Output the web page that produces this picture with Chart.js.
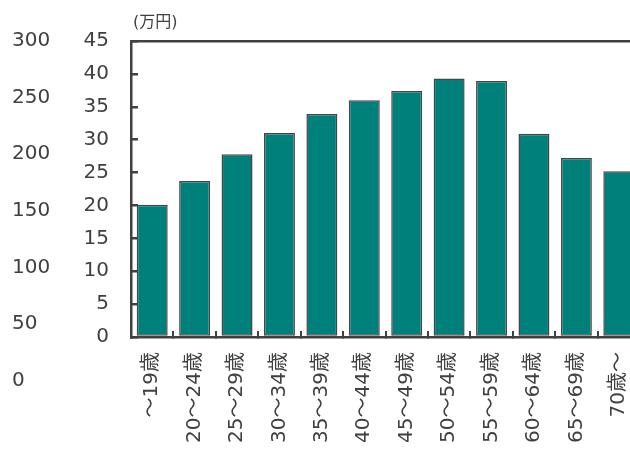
<!DOCTYPE html>
<html>
<head>
<meta charset="utf-8">
<script src="https://cdn.jsdelivr.net/npm/chart.js@4.4.0/dist/chart.umd.min.js"></script>
<style>
  html, body { margin: 0; padding: 0; overflow: hidden; background: #fff; }
  canvas { display: block; }
</style>
</head>
<body>
<canvas id="ageChart" width="640" height="449"></canvas>
<script>
// 年齢階級別の値（万円）
const categories = ['～19歳', '20～24歳', '25～29歳', '30～34歳', '35～39歳', '40～44歳',
                    '45～49歳', '50～54歳', '55～59歳', '60～64歳', '65～69歳', '70歳～'];
const values = [20.1, 23.7, 27.8, 31.0, 33.9, 36.0, 37.4, 39.3, 38.9, 30.9, 27.2, 25.2];
const innerTicks = [0, 5, 10, 15, 20, 25, 30, 35, 40, 45];
const outerTicks = [0, 50, 100, 150, 200, 250, 300];
const unitLabel = '(万円)';

const axisColor = '#404040';
const textColor = '#404040';
const fontFamily = '"DejaVu Sans", "Noto Sans CJK JP", sans-serif';

// 単位ラベル（グラフ左上）
const unitPlugin = {
    id: 'unitLabel',
    afterDraw(chart) {
        const ctx = chart.ctx;
        ctx.save();
        ctx.font = '16px ' + fontFamily;
        ctx.fillStyle = textColor;
        ctx.textBaseline = 'middle';
        ctx.textAlign = 'left';
        ctx.fillText(unitLabel, chart.chartArea.left + 2, 23);
        ctx.restore();
    }
};

new Chart(document.getElementById('ageChart'), {
    type: 'bar',
    data: {
        labels: categories,
        datasets: [{
            data: values,
            yAxisID: 'y',
            backgroundColor: '#00807a',
            borderColor: '#454545',
            borderWidth: 1.5,
            borderSkipped: false,
            barPercentage: 0.73,
            categoryPercentage: 1.0
        }]
    },
    options: {
        responsive: false,
        animation: false,
        layout: { padding: { left: 12, top: 40, right: 0, bottom: 0 } },
        plugins: {
            legend: { display: false },
            tooltip: { enabled: false }
        },
        scales: {
            x: {
                position: 'bottom',
                grid: {
                    drawOnChartArea: false,
                    tickLength: -6,
                    tickColor: axisColor,
                    lineWidth: 2
                },
                border: { color: axisColor, width: 2.5 },
                ticks: {
                    autoSkip: false,
                    maxRotation: 90,
                    minRotation: 90,
                    padding: 21,
                    color: textColor,
                    font: { family: fontFamily, size: 20 }
                },
                afterFit(scale) {
                    scale.height = 112;
                    scale.paddingLeft = 0;
                    scale.paddingRight = 0;
                }
            },
            y: {
                position: 'left',
                weight: 0,
                min: 0,
                max: 45,
                afterBuildTicks(scale) { scale.ticks = innerTicks.map(v => ({ value: v })); },
                grid: {
                    drawOnChartArea: true,
                    color: c => (c.tick && c.tick.value === 45 ? axisColor : 'rgba(0,0,0,0)'),
                    tickColor: axisColor,
                    tickLength: -7,
                    lineWidth: 2.5
                },
                border: { color: axisColor, width: 2.5 },
                ticks: {
                    padding: 29,
                    color: textColor,
                    font: { family: fontFamily, size: 20 }
                },
                afterFit(scale) { scale.width = 57; }
            },
            y2: {
                position: 'left',
                weight: 1,
                min: 38.7,
                max: 300,
                afterBuildTicks(scale) { scale.ticks = outerTicks.map(v => ({ value: v })); },
                grid: { display: false },
                border: { display: false },
                ticks: {
                    crossAlign: 'far',
                    color: textColor,
                    font: { family: fontFamily, size: 20 }
                },
                afterFit(scale) { scale.width = 62; }
            }
        }
    },
    plugins: [unitPlugin]
});
</script>
</body>
</html>
